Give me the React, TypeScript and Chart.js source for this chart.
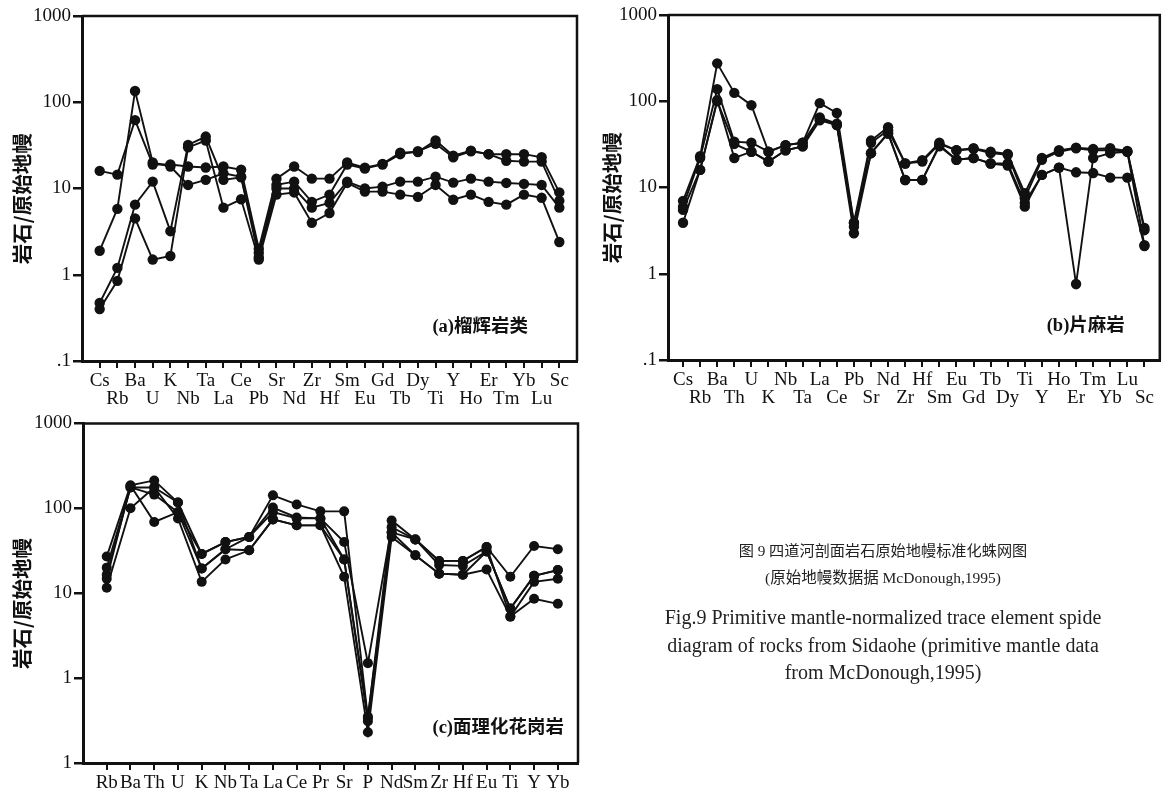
import React, { useEffect, useRef } from "react";
import { Chart, registerables } from "chart.js";

Chart.register(...registerables);

// ---------- Panel (a) 榴辉岩类 ----------
const elementsA = ["Cs","Rb","Ba","U","K","Nb","Ta","La","Ce","Pb","Sr","Nd","Zr","Hf","Sm","Eu","Gd","Tb","Dy","Ti","Y","Ho","Er","Tm","Yb","Lu","Sc"];
const a1 = [16, 14.5, 62, 19, 19, 18, 17.5, 18, 16.5, 2.0, 13, 18, 13, 13, 20, 17.4, 19.3, 26, 26.5, 36, 24, 27.5, 25, 25, 25, 23, 9];
const a2 = [1.9, 5.8, 135, 20, 18, 11, 12.6, 15, 13.7, 1.8, 11, 12, 7, 8.5, 19, 17, 19, 25, 27, 33, 23, 27, 25, 21, 20.5, 20.5, 7.2];
const a3 = [0.47, 1.2, 6.5, 12, 3.2, 32, 40, 12.6, 13.5, 1.6, 10, 10, 6, 6.8, 12, 10, 10.5, 12, 12, 13.7, 11.7, 13, 12, 11.6, 11.3, 11, 6];
const a4 = [0.4, 0.85, 4.5, 1.5, 1.65, 30, 36, 6, 7.5, 1.5, 8.5, 9, 4, 5.2, 11.6, 9.2, 9.2, 8.5, 8, 11, 7.4, 8.5, 7, 6.5, 8.5, 7.8, 2.4];

// ---------- Panel (b) 片麻岩 ----------
const elementsB = ["Cs","Rb","Ba","Th","U","K","Nb","Ta","La","Ce","Pb","Sr","Nd","Zr","Hf","Sm","Eu","Gd","Tb","Dy","Ti","Y","Ho","Er","Tm","Yb","Lu","Sc"];
const b1 = [7, 23, 275, 125, 90, 26, 31, 33, 95, 73, 3.9, 35, 50, 19, 20.7, 33, 27, 28.5, 26, 24.5, 8.6, 22, 27, 29, 28, 28.5, 26.5, 3.4];
const b2 = [6, 22, 138, 34, 33, 26, 31, 33, 65, 55, 3.5, 33, 46, 19, 20, 32, 27, 28, 25, 24, 7.5, 21, 26, 28.5, 27, 27, 26, 3.2];
const b3 = [5.5, 16, 103, 22, 26, 20, 27, 30, 60, 53, 3.9, 25, 42, 12.2, 12.2, 31, 21, 22, 19, 19, 6.6, 14, 17, 0.76, 22, 25, 26, 2.15];
const b4 = [3.9, 16, 100, 32, 26, 20, 27, 30, 63, 53, 2.95, 25, 43, 12.2, 12.2, 30, 21, 22, 19, 18, 6, 14, 17, 15, 14.7, 13, 13, 2.1];

// ---------- Panel (c) 面理化花岗岩 ----------
const elementsC = ["Rb","Ba","Th","U","K","Nb","Ta","La","Ce","Pr","Sr","P","Nd","Sm","Zr","Hf","Eu","Ti","Y","Yb"];
const c1 = [27, 186, 213, 117, 29, 40, 46, 142, 111, 92, 92, 0.34, 72, 43, 24, 24, 35, 15.6, 36, 33];
const c2 = [20, 176, 176, 117, 19.5, 33, 46, 102, 78, 76, 40, 1.5, 60, 43, 21.5, 21, 31, 6.6, 16, 18.7];
const c3 = [16.5, 176, 145, 90, 29, 40, 46, 90, 76, 76, 25, 0.31, 52, 43, 24, 24, 35, 5.3, 13.6, 14.8];
const c4 = [14.8, 186, 69, 90, 19.5, 33, 32, 74, 63, 63, 15.6, 0.23, 46, 28, 17, 16.5, 19, 5.3, 8.6, 7.5];
const c5 = [11.6, 100, 176, 76, 13.6, 25, 32, 74, 63, 63, 25, 0.35, 52, 28, 17, 16.5, 31, 6.6, 16, 18.7];

// ---------- Axis ticks ----------
const yTickValues = [0.1, 1, 10, 100, 1000];
const yTickTextAB = [".1", "1", "10", "100", "1000"];
const yTickTextC = ["1", "1", "10", "100", "1000"];
// trailing ideographic space nudges the rotated title slightly downward, as in the reference
const yTitle = "岩石/原始地幔\u3000";

const INK = "#111";
const SERIF = "'Liberation Serif', 'Times New Roman', serif";
const CJK = "'Noto Sans CJK SC', sans-serif";

type Panel = {
  labels: string[];
  series: number[][];
  xMin: number;
  xMax: number;
  yTickText: string[];
  twoRows: boolean;
  padTop: number;
  padRight: number;
  yWidth: number;
  xHeight: number;
  note: string;
  noteRightGap: number;
  noteY: number;
  radius: number;
};

const framePlugin = {
  id: "frameAndNote",
  beforeDatasetsDraw(chart: any) {
    const { ctx, chartArea } = chart;
    const { left, right, top, bottom } = chartArea;
    ctx.save();
    ctx.strokeStyle = INK;
    ctx.lineWidth = 2.5;
    ctx.beginPath();
    ctx.moveTo(left, top);
    ctx.lineTo(right, top);
    ctx.lineTo(right, bottom);
    ctx.stroke();
    ctx.restore();
  },
  afterDraw(chart: any) {
    const p: Panel = chart.options.plugins.frameAndNote.panel;
    const { ctx, chartArea } = chart;
    ctx.save();
    ctx.fillStyle = INK;
    ctx.font = `bold 18.5px 'Liberation Serif', 'Noto Sans CJK SC'`;
    ctx.textAlign = "right";
    ctx.textBaseline = "middle";
    ctx.fillText(p.note, chartArea.right - p.noteRightGap, p.noteY);
    ctx.restore();
  },
};

function makeConfig(p: Panel): any {
  const datasets = p.series.map((s) => ({
    data: s.map((v, i) => ({ x: i, y: v })),
    borderColor: INK,
    backgroundColor: INK,
    pointBackgroundColor: INK,
    pointBorderColor: INK,
    borderWidth: 1.9,
    pointRadius: p.radius,
    pointHoverRadius: p.radius,
    pointBorderWidth: 0,
    tension: 0,
    fill: false,
    showLine: true,
  }));
  return {
    type: "line",
    data: { datasets },
    options: {
      animation: false,
      responsive: false,
      maintainAspectRatio: false,
      events: [],
      layout: { padding: { top: p.padTop, right: p.padRight, left: 0, bottom: 0 } },
      plugins: {
        legend: { display: false },
        tooltip: { enabled: false },
        frameAndNote: { panel: p },
      },
      scales: {
        x: {
          type: "linear",
          min: p.xMin,
          max: p.xMax,
          afterBuildTicks: (scale: any) => {
            scale.ticks = p.labels.map((_, i) => ({ value: i }));
          },
          afterFit: (scale: any) => {
            scale.height = p.xHeight;
          },
          ticks: {
            autoSkip: false,
            maxRotation: 0,
            minRotation: 0,
            padding: 4,
            color: INK,
            font: { family: SERIF, size: 19, lineHeight: 0.95 },
            callback: (value: number) => {
              const i = Math.round(value);
              const name = p.labels[i] ?? "";
              if (!p.twoRows) return name;
              return i % 2 === 0 ? [name, ""] : ["", name];
            },
          },
          grid: {
            drawOnChartArea: false,
            drawTicks: true,
            tickLength: 7,
            color: INK,
            lineWidth: 2,
          },
          border: { display: true, width: 3, color: INK },
        },
        y: {
          type: "logarithmic",
          min: 0.1,
          max: 1000,
          afterBuildTicks: (scale: any) => {
            scale.ticks = yTickValues.map((v) => ({ value: v }));
          },
          afterFit: (scale: any) => {
            scale.width = p.yWidth;
          },
          ticks: {
            autoSkip: false,
            padding: 2,
            color: INK,
            font: { family: SERIF, size: 19 },
            callback: (value: number) => {
              let best = 0;
              yTickValues.forEach((v, i) => {
                if (Math.abs(Math.log10(v) - Math.log10(value)) < Math.abs(Math.log10(yTickValues[best]) - Math.log10(value))) best = i;
              });
              return p.yTickText[best];
            },
          },
          grid: {
            drawOnChartArea: false,
            drawTicks: true,
            tickLength: 9,
            color: INK,
            lineWidth: 2.5,
          },
          border: { display: true, width: 3, color: INK },
          title: {
            display: true,
            text: yTitle,
            color: INK,
            font: { family: CJK, size: 20.5, weight: "bold" },
            padding: { top: 10, bottom: 0 },
          },
        },
      },
    },
    plugins: [framePlugin],
  };
}

const panelA: Panel = {
  labels: elementsA,
  series: [a1, a2, a3, a4],
  xMin: -1,
  xMax: 27,
  yTickText: yTickTextAB,
  twoRows: true,
  padTop: 16,
  padRight: 13,
  yWidth: 82,
  xHeight: 49,
  note: "(a)榴辉岩类",
  noteRightGap: 49,
  noteY: 327,
  radius: 5.2,
};

const panelB: Panel = {
  labels: elementsB,
  series: [b1, b2, b3, b4],
  xMin: -0.88,
  xMax: 27.9,
  yTickText: yTickTextAB,
  twoRows: true,
  padTop: 15,
  padRight: 5,
  yWidth: 78,
  xHeight: 50,
  note: "(b)片麻岩",
  noteRightGap: 35,
  noteY: 326,
  radius: 5.2,
};

const panelC: Panel = {
  labels: elementsC,
  series: [c1, c2, c3, c4, c5],
  xMin: -1,
  xMax: 19.85,
  yTickText: yTickTextC,
  twoRows: false,
  padTop: 11,
  padRight: 22,
  yWidth: 83,
  xHeight: 28,
  note: "(c)面理化花岗岩",
  noteRightGap: 14,
  noteY: 318,
  radius: 5,
};

function PanelChart({ panel, left, top, width, height }: { panel: Panel; left: number; top: number; width: number; height: number }) {
  const ref = useRef<HTMLCanvasElement>(null);
  useEffect(() => {
    const chart = new Chart(ref.current as HTMLCanvasElement, makeConfig(panel));
    return () => chart.destroy();
  }, [panel]);
  return (
    <canvas
      ref={ref}
      width={width}
      height={height}
      style={{ position: "absolute", left, top, width, height }}
    />
  );
}

const captionLines = [
  { text: "图 9  四道河剖面岩石原始地幔标准化蛛网图", y: 551, size: 15.2 },
  { text: "(原始地幔数据据 McDonough,1995)", y: 578, size: 15.5 },
  { text: "Fig.9  Primitive mantle-normalized trace element spide", y: 617, size: 20 },
  { text: "diagram of rocks from Sidaohe (primitive mantle data", y: 645, size: 20 },
  { text: "from McDonough,1995)", y: 672, size: 20 },
];

export default function App() {
  return (
    <div style={{ position: "absolute", left: 0, top: 0, width: 1165, height: 791, background: "#fff", overflow: "hidden" }}>
      <PanelChart panel={panelA} left={0} top={0} width={590} height={410} />
      <PanelChart panel={panelB} left={590} top={0} width={575} height={410} />
      <PanelChart panel={panelC} left={0} top={410} width={600} height={381} />
      {captionLines.map((l, i) => (
        <div
          key={i}
          style={{
            position: "absolute",
            left: 583,
            width: 600,
            top: l.y - 12,
            height: 24,
            lineHeight: "24px",
            textAlign: "center",
            fontFamily: "'Liberation Serif', 'Noto Sans CJK SC', serif",
            fontSize: l.size,
            color: "#222",
            whiteSpace: "nowrap",
          }}
        >
          {l.text}
        </div>
      ))}
    </div>
  );
}
